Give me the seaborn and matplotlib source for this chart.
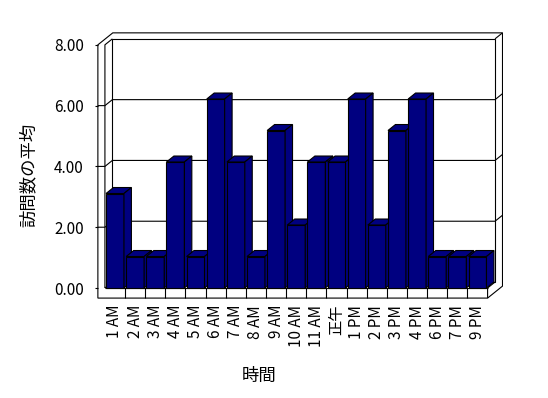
import matplotlib
matplotlib.use("agg")
import matplotlib.pyplot as plt
from matplotlib.patches import Polygon
import seaborn as sns

# 時間帯ごとの訪問数の平均
jikan = ["1 AM", "2 AM", "3 AM", "4 AM", "5 AM", "6 AM", "7 AM", "8 AM", "9 AM",
         "10 AM", "11 AM", "正午", "1 PM", "2 PM", "3 PM", "4 PM", "6 PM", "7 PM", "9 PM"]
heikin = [3, 1, 1, 4, 1, 6, 4, 1, 5, 2, 4, 4, 6, 2, 5, 6, 1, 1, 1]
y_ticks = [0, 2, 4, 6, 8]

NAVY = "#000080"
# 疑似3D: 奥行きのずれ (データ単位)
DX, DY = 0.37, 0.19
TW, FL = 0.35, 0.32   # 左壁と床の厚み
W = 0.965             # 壁の目盛りは棒より少し手前 (遠近)
LW = 0.8

sns.set_theme(style="white")
plt.rcParams["font.family"] = ["Noto Sans CJK JP", "DejaVu Sans"]

fig = plt.figure(figsize=(5.48, 3.98), dpi=100)
ax = fig.add_axes([93 / 548, 99 / 398, 410 / 548, 268 / 398])

sns.barplot(x=jikan, y=heikin, ax=ax, color=NAVY, saturation=1, width=0.89,
            edgecolor="black", linewidth=LW, errorbar=None)
bars = list(ax.patches)


def poly(pts, fc="white", z=1.0):
    ax.add_patch(Polygon(pts, closed=True, fc=fc, ec="black", lw=LW, zorder=z))


def line(xs, ys, z=1.5):
    ax.plot(xs, ys, color="black", lw=LW, zorder=z, solid_capstyle="butt")


n = len(jikan)
xl, xr = -0.5, n - 0.5
top = W * y_ticks[-1]

# 外枠と奥の壁
poly([(xl - TW, -FL), (xl - TW, top), (xl - TW + 2 * DX, top + 2 * DY),
      (xr + 2 * DX, top + 2 * DY), (xr + 2 * DX, -FL + 2 * DY), (xr, -FL)])
poly([(xl + DX, DY), (xl + DX, top + DY), (xr + DX, top + DY), (xr + DX, DY)], z=1.2)
line([xl, xl, xl + DX], [0, top, top + DY])
line([xl, xl + DX], [0, DY])
line([xr + DX, xr + 2 * DX], [top + DY, top + 2 * DY])
line([xl, xr], [0, 0])
line([xr, xr, xr + DX], [-FL, 0, DY])
for i in range(n - 1):
    line([i + 0.5, i + 0.5], [-FL, 0])

# 目盛り線
for v in y_ticks:
    y = W * v
    line([xl - TW - 0.15, xl - TW], [y, y])
    if 0 < v < y_ticks[-1]:
        line([xl - TW, xl, xl + DX, xr + DX, xr + 2 * DX],
             [y, y, y + DY, y + DY, y + 2 * DY])

# 棒の上面と側面
for i, p in enumerate(bars):
    z = 3 + 0.01 * i
    p.set_zorder(z)
    x0, w, h = p.get_x(), p.get_width(), p.get_height()
    poly([(x0, h), (x0 + w, h), (x0 + w + DX, h + DY), (x0 + DX, h + DY)], fc=NAVY, z=z)
    poly([(x0 + w, 0), (x0 + w, h), (x0 + w + DX, h + DY), (x0 + w + DX, DY)], fc=NAVY, z=z)

ax.set_xlim(-1.092, 19.265)
ax.set_ylim(-0.349, 8.159)
ax.set_yticks([W * v for v in y_ticks])
ax.set_yticklabels([f"{v:.2f}" for v in y_ticks])
ax.set_xticks(range(n))
ax.set_xticklabels(jikan, rotation=90)
ax.tick_params(length=0, labelsize=11, colors="black")
ax.tick_params(axis="y", pad=6.5)
ax.tick_params(axis="x", pad=4.3)
for s in ax.spines.values():
    s.set_visible(False)
ax.grid(False)

ax.set_xlabel("時間", fontsize=12.5, color="black")
ax.set_ylabel("訪問数の平均", fontsize=12.5, color="black")
ax.xaxis.set_label_coords(0.405, -0.254)
ax.yaxis.set_label_coords(-0.134, 0.463)

fig.savefig("out.png", dpi=100)
